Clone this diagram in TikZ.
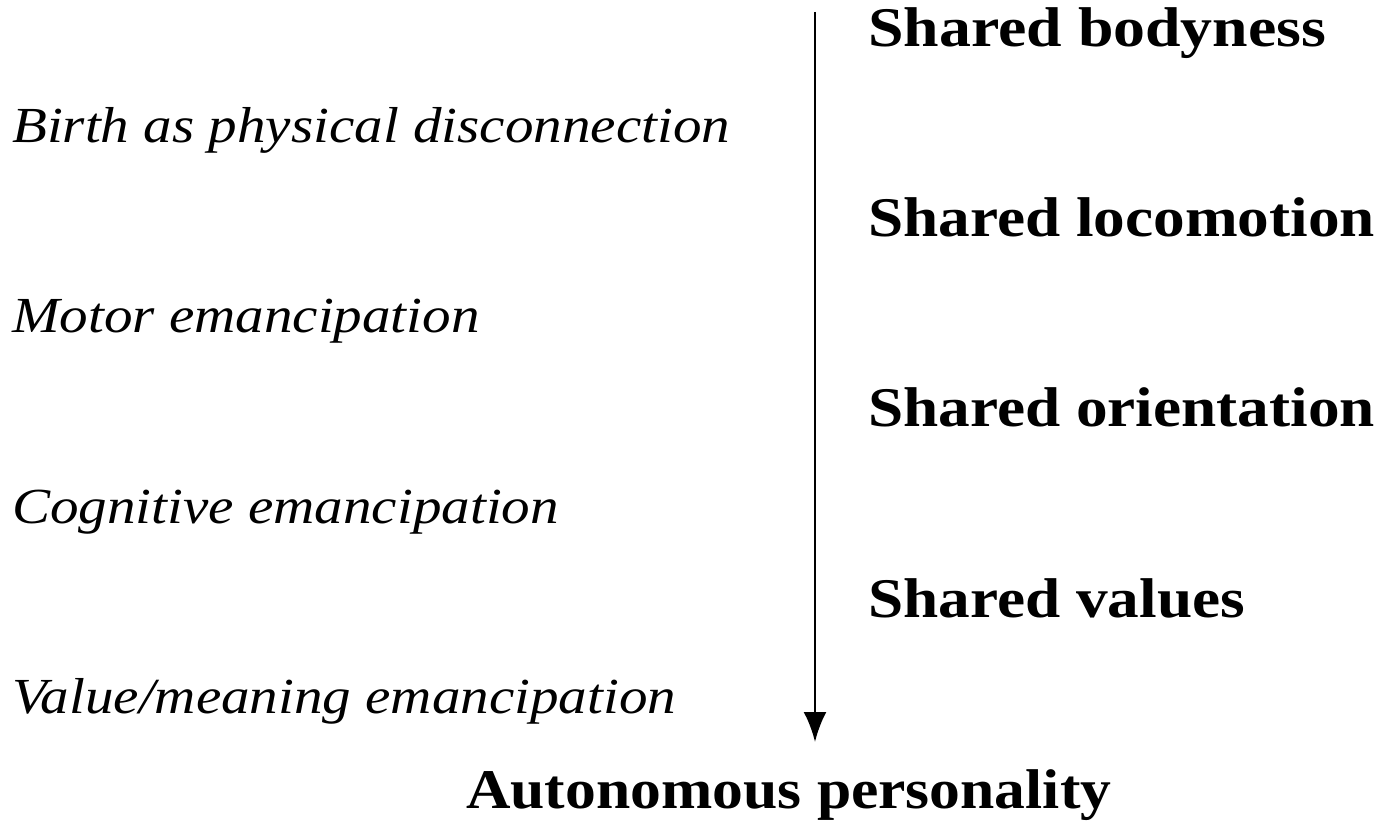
\documentclass[tikz,border=0pt]{standalone}
\usepackage{fontspec}
\setmainfont{Liberation Serif}
\usetikzlibrary{arrows.meta}
\begin{document}
\begin{tikzpicture}[x=1pt,y=1pt,
  stage/.style={anchor=base west,inner sep=0pt,font=\fontsize{56}{60}\selectfont\bfseries},
  eman/.style={anchor=base west,inner sep=0pt,font=\fontsize{50.5}{55}\selectfont\itshape},
  flow/.style={line width=2.8pt,-{Latex[length=30pt,width=23pt]}}]
\useasboundingbox (0,0) rectangle (1380,820);
\node[stage] (s1) at (868,{820-47}) {\scalebox{1.14}[1]{Shared bodyness}};
\node[eman] (e1) at (12,{820-143}) {\scalebox{1.13}[1]{Birth as physical disconnection}};
\node[stage] (s2) at (868,{820-237}) {\scalebox{1.13}[1]{Shared locomotion}};
\node[eman] (e2) at (12,{820-333}) {\scalebox{1.13}[1]{Motor emancipation}};
\node[stage] (s3) at (868,{820-427}) {\scalebox{1.13}[1]{Shared orientation}};
\node[eman] (e3) at (12,{820-523}) {\scalebox{1.13}[1]{Cognitive emancipation}};
\node[stage] (s4) at (868,{820-617}) {\scalebox{1.13}[1]{Shared values}};
\node[eman] (e4) at (12,{820-713}) {\scalebox{1.13}[1]{Value/meaning emancipation}};
\node[stage] (auto) at (466,{820-808}) {\scalebox{1.10}[1]{Autonomous personality}};
\coordinate (top) at (815,{820-12});
\coordinate (bot) at (815,{820-742});
\draw[flow] (top) -- (bot);
\end{tikzpicture}
\end{document}
